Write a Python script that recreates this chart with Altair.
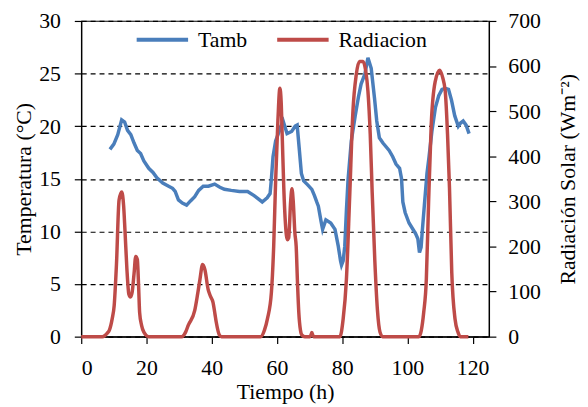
import altair as alt
import pandas as pd

# ---- data ----
t_tamb = [8.8, 10.0, 11.2, 12.4, 13.3, 14.2, 15.2, 16.2, 17.2, 18.2, 19.2, 20.7, 22.0, 23.2, 25.0,
          26.8, 28.0, 28.8, 29.8, 31.0, 32.3, 33.5, 34.8, 36.0, 37.4, 39.0, 40.9, 42.5, 43.9, 46.0,
          48.5, 51.0, 53.0, 55.5, 57.0, 57.9, 58.3, 58.8, 59.6, 60.8, 61.6, 61.9, 63.1, 64.5, 65.6,
          66.2, 66.8, 67.5, 68.2, 69.5, 70.7, 71.5, 72.2, 72.7, 73.5, 74.0, 75.0, 76.5, 77.8, 78.8,
          79.5, 79.8, 80.3, 80.8, 81.3, 81.8, 82.8, 84.0, 85.0, 85.8, 87.0, 87.9, 88.9, 89.9, 90.6,
          91.4, 92.5, 94.4, 95.5, 96.5, 97.6, 98.2, 98.6, 99.3, 100.5, 101.5, 102.5, 103.2, 103.7,
          104.2, 104.5, 105.2, 106.0, 106.6, 107.5, 108.6, 109.6, 110.6, 111.6, 112.6, 113.5, 114.5,
          115.6, 116.3, 117.1, 118.0, 118.9]
tamb = [17.8, 18.3, 19.2, 20.6, 20.4, 19.6, 19.2, 18.4, 17.7, 17.4, 16.7, 16.0, 15.6, 15.1, 14.6,
        14.3, 14.1, 13.8, 13.0, 12.7, 12.5, 12.9, 13.3, 13.9, 14.3, 14.3, 14.5, 14.2, 14.0, 13.9,
        13.8, 13.8, 13.4, 12.8, 13.2, 13.6, 15.0, 17.1, 18.6, 19.6, 20.3, 20.5, 19.3, 19.5, 20.0,
        20.1, 18.0, 15.5, 14.8, 14.4, 14.0, 13.4, 12.8, 12.4, 11.0, 10.2, 11.1, 10.8, 10.2, 8.6,
        7.2, 6.8, 7.2, 8.6, 12.0, 14.9, 18.6, 21.0, 22.8, 24.0, 25.0, 26.5, 25.5, 22.7, 20.5,
        18.9, 18.4, 17.7, 17.1, 16.4, 16.0, 15.0, 12.8, 11.8, 10.8, 10.3, 9.8, 9.3, 8.0,
        8.5, 9.8, 12.5, 15.5, 17.0, 19.5, 21.8, 22.9, 23.5, 23.6, 23.5, 22.5, 21.0,
        20.0, 20.3, 20.5, 20.1, 19.3]

t_rad = [0, 6.5, 8.0, 8.6, 9.5, 10.1, 10.8, 11.6, 12.4, 13.0, 13.4, 14.0, 14.6, 15.1, 15.6, 16.2,
         16.7, 17.2, 17.6, 17.9, 18.5, 19.2, 20.7, 30.8, 32.0, 32.8, 34.8, 35.7, 36.4, 37.2, 37.9,
         38.9, 39.6, 40.4, 41.0, 41.4, 42.4, 43.0, 55.0, 56.2, 57.1, 58.3, 59.0, 59.6, 60.3, 60.9,
         61.3, 61.6, 62.1, 62.6, 63.2, 63.6, 64.2, 64.6, 65.0, 65.5, 65.9, 66.3, 66.7, 67.2, 67.7,
         68.5, 70.2, 70.7, 71.2, 79.3, 80.3, 81.3, 82.3, 83.3, 84.3, 85.3, 86.4, 87.2, 87.9, 88.6,
         89.2, 90.0, 90.8, 91.6, 92.4, 103.5, 105.0, 105.8, 106.5, 107.3, 108.5, 109.9, 110.8,
         111.6, 112.3, 112.9, 113.6, 114.6, 115.5, 116.2, 118.7]
rad = [0, 0, 8, 14, 40, 69, 160, 303, 321, 290, 237, 150, 94, 88, 98, 140,
       178, 171, 110, 54, 25, 10, 0, 0, 10, 25, 58, 95, 127, 160, 149,
       105, 90, 76, 50, 32, 3, 0, 0, 15, 40, 98, 200, 346, 480, 551,
       520, 450, 330, 251, 215, 219, 300, 328, 300, 230, 200, 120, 54, 15, 3,
       0, 0, 9, 0, 0, 39, 127, 310, 500, 580, 610, 610, 590, 544, 449,
       320, 170, 60, 10, 0, 0, 54, 127, 300, 470, 565, 591, 575,
       544, 449, 330, 142, 39, 10, 0, 0]

series = ["Tamb", "Radiacion"]
colors = ["#4A7EBB", "#BE4B48"]
x_ticks = [0, 20, 40, 60, 80, 100, 120]
t_ticks = [0, 5, 10, 15, 20, 25, 30]
r_ticks = [0, 100, 200, 300, 400, 500, 600, 700]

df_t = pd.DataFrame({"t": t_tamb, "v": tamb, "s": "Tamb"})
df_r = pd.DataFrame({"t": t_rad, "v": rad, "s": "Radiacion"})

FONT = "Liberation Serif"
FS = 22

x_enc = alt.X("t:Q", scale=alt.Scale(domain=[0, 125], nice=False),
              axis=alt.Axis(values=x_ticks, title="Tiempo (h)", grid=False, tickSize=7,
                            labelPadding=14, titlePadding=4))

color_enc = alt.Color("s:N", scale=alt.Scale(domain=series, range=colors),
                      legend=alt.Legend(orient="none", legendX=54, legendY=-9, direction="horizontal",
                                        title=None, symbolType="stroke", symbolSize=2700,
                                        symbolStrokeWidth=4, labelFont=FONT, labelFontSize=FS,
                                        labelColor="black", labelOffset=8, columnPadding=22))

left_axis = alt.Axis(orient="left", values=t_ticks, title="Temperatura (°C)", grid=True,
                     gridDash=[5, 4], gridColor="black", gridWidth=1.2, tickSize=7,
                     labelPadding=14, titlePadding=3)
right_axis = alt.Axis(orient="right", values=r_ticks, title="Radiación Solar (Wm⁻²)", grid=False,
                      tickSize=7, labelPadding=12, titlePadding=17, titleAngle=270,
                      titleBaseline="top")

blue = alt.Chart(df_t).mark_line(strokeWidth=3.5).encode(
    x=x_enc,
    y=alt.Y("v:Q", scale=alt.Scale(domain=[0, 30], nice=False), axis=left_axis),
    color=color_enc,
)
red = alt.Chart(df_r).mark_line(strokeWidth=3.5, interpolate="monotone").encode(
    x=x_enc,
    y=alt.Y("v:Q", scale=alt.Scale(domain=[0, 700], nice=False), axis=right_axis),
    color=color_enc,
)

chart = (
    alt.layer(blue, red)
    .resolve_scale(y="independent")
    .properties(width=412, height=319, autosize=alt.AutoSizeParams(type="none"),
                padding={"left": 74, "top": 11, "right": 92, "bottom": 70})
    .configure_view(stroke="black", strokeWidth=1.2)
    .configure_axis(labelFont=FONT, labelFontSize=FS, labelColor="black", titleFont=FONT,
                    titleFontSize=FS, titleFontWeight="normal", titleColor="black",
                    domainColor="black", domainWidth=1.2, tickColor="black", tickWidth=1.2)
)

chart.save("out.html", embed_options={"renderer": "svg", "actions": False})
